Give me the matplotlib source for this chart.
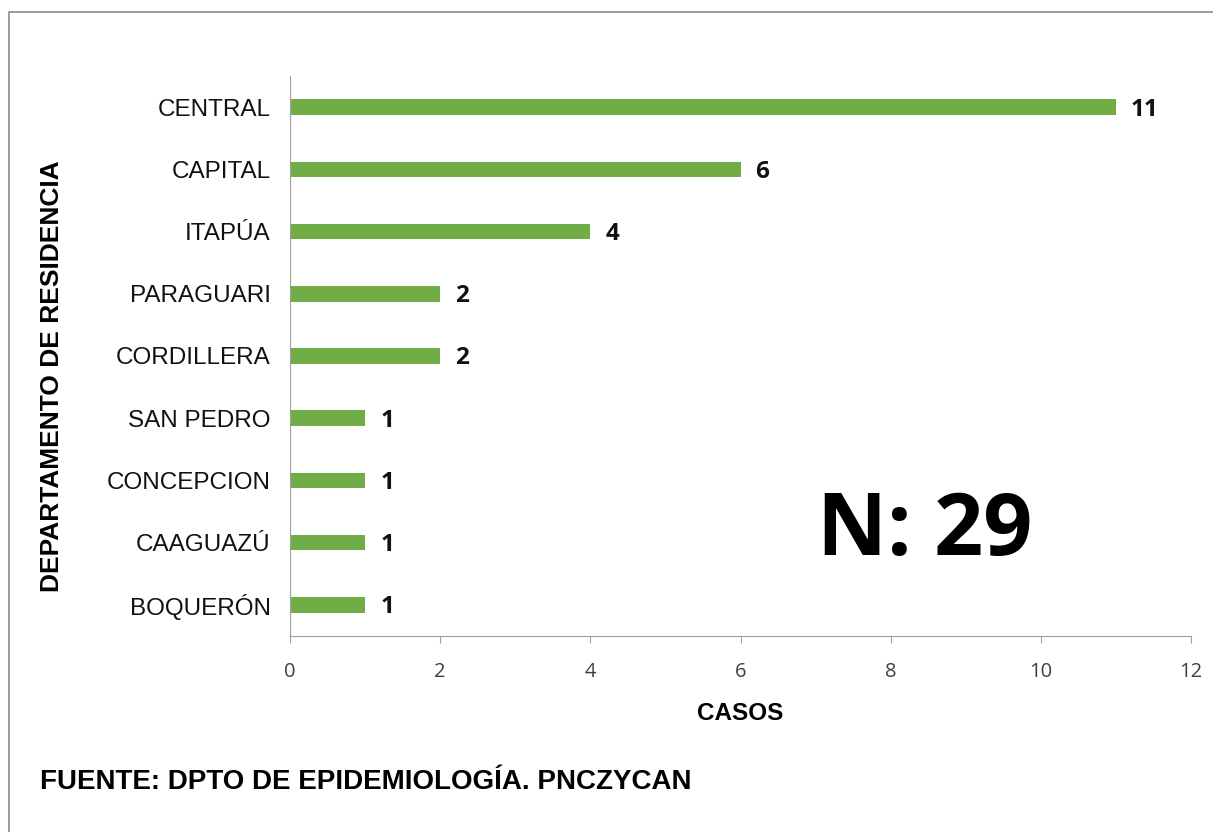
import matplotlib
matplotlib.use("Agg")
import matplotlib.pyplot as plt
from matplotlib.patches import Rectangle

categories = ["CENTRAL", "CAPITAL", "ITAPÚA", "PARAGUARI", "CORDILLERA",
              "SAN PEDRO", "CONCEPCION", "CAAGUAZÚ", "BOQUERÓN"]
casos = [11, 6, 4, 2, 2, 1, 1, 1, 1]
xticks = [0, 2, 4, 6, 8, 10, 12]

fig = plt.figure(figsize=(12.13, 8.32), dpi=100)
fig.patch.set_facecolor("white")
fig.patches.append(Rectangle((9/1213, -0.1), 1.2, 1 - 12/832 + 0.1,
                             transform=fig.transFigure, fill=False,
                             edgecolor="#8c8c8c", linewidth=1.2))

ax = fig.add_axes([290/1213, 1 - 636/832, (1191 - 290)/1213, (636 - 76)/832])
ypos = list(range(len(categories)))[::-1]
ax.barh(ypos, casos, height=0.25, color="#70ad47")
ax.set_ylim(-0.5, len(categories) - 0.5)
ax.set_xlim(0, 12)
ax.set_xticks(xticks)
ax.set_xticklabels([str(t) for t in xticks], fontfamily="Open Sans", fontsize=14.5, color="#404040")
ax.set_yticks(ypos)
ax.set_yticklabels(categories, fontfamily="Liberation Sans", fontsize=17.5, color="#111111")
ax.tick_params(axis="y", length=0, pad=14)
ax.tick_params(axis="x", length=5, color="#a0a0a0", pad=14)
for s in ["top", "right"]:
    ax.spines[s].set_visible(False)
ax.spines["left"].set_color("#a0a0a0")
ax.spines["bottom"].set_color("#a0a0a0")

for y, v in zip(ypos, casos):
    ax.text(v + 0.2, y - 0.04, str(v), va="center", ha="left", fontfamily="Open Sans",
            fontweight="bold", fontsize=17.5, color="#111111")

ax.set_xlabel("CASOS", fontfamily="Liberation Sans", fontweight="bold", fontsize=17.5, labelpad=14)
fig.text(52/1213, 1 - 376/832, "DEPARTAMENTO DE RESIDENCIA", rotation=90, ha="center", va="center",
         fontfamily="Liberation Sans", fontweight="bold", fontsize=19)
ax.text(0.585, 0.185, "N: 29", transform=ax.transAxes, ha="left", va="center",
        fontfamily="Open Sans", fontweight="bold", fontsize=62, color="black")
fig.text(40/1213, 1 - 782/832, "FUENTE: DPTO DE EPIDEMIOLOGÍA. PNCZYCAN", ha="left", va="center",
         fontfamily="Liberation Sans", fontweight="bold", fontsize=20)

fig.savefig("out.png", dpi=100, facecolor="white")
